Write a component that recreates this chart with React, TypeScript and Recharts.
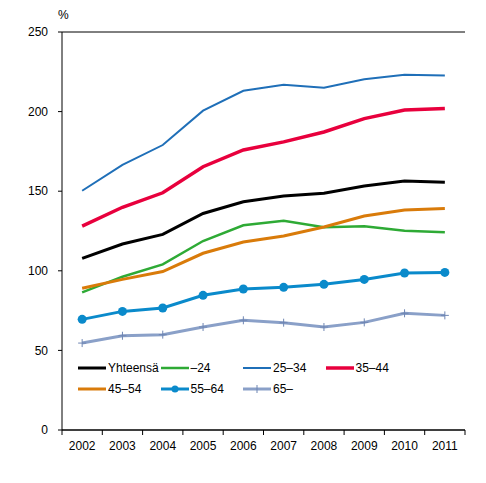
import React from "react";
import { LineChart, Line, XAxis, YAxis, CartesianGrid } from "recharts";

// Years on the x axis
const years = ["2002", "2003", "2004", "2005", "2006", "2007", "2008", "2009", "2010", "2011"];

// Values (%)
const total = [107.8, 116.8, 122.9, 136.0, 143.4, 147.0, 148.7, 153.3, 156.4, 155.6];
const under24 = [86.5, 96.3, 104.0, 118.7, 128.6, 131.5, 127.3, 128.0, 125.2, 124.2];
const age25to34 = [150.3, 166.5, 179.0, 200.6, 213.1, 216.9, 215.0, 220.3, 223.2, 222.6];
const age35to44 = [128.1, 139.9, 149.0, 165.4, 175.9, 181.0, 187.2, 195.6, 201.0, 202.0];
const age45to54 = [89.0, 94.6, 99.5, 111.0, 118.1, 121.9, 127.5, 134.4, 138.2, 139.2];
const age55to64 = [69.5, 74.5, 76.6, 84.6, 88.6, 89.6, 91.5, 94.6, 98.6, 99.0];
const age65plus = [54.6, 59.2, 59.9, 64.7, 68.9, 67.4, 64.7, 67.6, 73.3, 72.0];

const yTicks = [0, 50, 100, 150, 200, 250];

const data = years.map((year, i) => ({
  year,
  total: total[i],
  under24: under24[i],
  age25to34: age25to34[i],
  age35to44: age35to44[i],
  age45to54: age45to54[i],
  age55to64: age55to64[i],
  age65plus: age65plus[i]
}));

const FONT = "Arial, 'Liberation Sans', sans-serif";

type SeriesDef = { key: string; name: string; color: string; width: number; marker?: "dot" | "plus" };

const series: SeriesDef[] = [
  { key: "total", name: "Yhteensä", color: "#000000", width: 3 },
  { key: "under24", name: "–24", color: "#2EAA35", width: 2.5 },
  { key: "age25to34", name: "25–34", color: "#1F6FB8", width: 2 },
  { key: "age35to44", name: "35–44", color: "#E8003D", width: 3.5 },
  { key: "age45to54", name: "45–54", color: "#D97B0A", width: 3 },
  { key: "age55to64", name: "55–64", color: "#0A8ACB", width: 3, marker: "dot" },
  { key: "age65plus", name: "65–", color: "#8AA0C8", width: 3, marker: "plus" }
];

// "+" marker for the 65– line
const PlusDot = (props: any) => {
  const { cx, cy } = props;
  if (cx == null || cy == null) return null;
  return (
    <g>
      <line x1={cx} y1={cy - 4} x2={cx} y2={cy + 4} stroke="#6F86B3" strokeWidth={1} />
      <line x1={cx - 4} y1={cy} x2={cx + 4} y2={cy} stroke="#6F86B3" strokeWidth={1} />
    </g>
  );
};

// x ticks: label at the band centre, tick marks at the band edges (Excel style)
const XTick = (props: any) => {
  const { x, y, payload, index } = props;
  const half = 40.3 / 2;
  return (
    <g>
      <line x1={x - half} y1={y} x2={x - half} y2={y + 5} stroke="#000" />
      {index === years.length - 1 && (
        <line x1={x + half} y1={y} x2={x + half} y2={y + 5} stroke="#000" />
      )}
      <text x={x} y={y + 20} textAnchor="middle" fontSize={12} fontFamily={FONT} fill="#000">
        {payload.value}
      </text>
    </g>
  );
};

const LegendMark = ({ s }: { s: SeriesDef }) => (
  <svg width={28} height={10} style={{ display: "block" }}>
    <line x1={0} y1={5} x2={28} y2={5} stroke={s.color} strokeWidth={s.width} />
    {s.marker === "dot" && <circle cx={14} cy={5} r={3.5} fill={s.color} />}
    {s.marker === "plus" && <line x1={14} y1={1} x2={14} y2={9} stroke="#6F86B3" strokeWidth={1} />}
  </svg>
);

const ChartLegend = () => (
  <div
    style={{
      position: "absolute",
      left: 78,
      top: 361,
      width: 400,
      height: 44,
      fontFamily: FONT,
      fontSize: 12
    }}
  >
    {series.map((s, i) => {
      const col = i < 4 ? i : i - 4;
      const row = i < 4 ? 0 : 1;
      return (
        <div
          key={s.key}
          style={{
            position: "absolute",
            left: col * 82.5,
            top: row * 21,
            display: "flex",
            alignItems: "center",
            gap: 2,
            whiteSpace: "nowrap"
          }}
        >
          <LegendMark s={s} />
          <span>{s.name}</span>
        </div>
      );
    })}
  </div>
);

export default function App() {
  return (
    <div style={{ position: "absolute", left: 0, top: 0, width: 486, height: 483, background: "#fff" }}>
      <div style={{ position: "absolute", left: 58, top: 8, fontFamily: FONT, fontSize: 12 }}>%</div>
      <LineChart
        width={486}
        height={483}
        data={data}
        margin={{ top: 32, right: 21, left: 12, bottom: 23 }}
      >
        <CartesianGrid vertical={false} stroke="#000" strokeWidth={1} />
        <XAxis
          dataKey="year"
          scale="band"
          height={30}
          axisLine={{ stroke: "#000" }}
          tickLine={false}
          tickSize={0}
          tickMargin={0}
          tick={<XTick />}
          interval={0}
        />
        <YAxis
          yAxisId="l"
          width={50}
          domain={[0, 250]}
          ticks={yTicks}
          interval={0}
          axisLine={{ stroke: "#000" }}
          tickLine={{ stroke: "#000" }}
          tickSize={4}
          tickMargin={10}
          tick={{ fill: "#000", fontSize: 12, fontFamily: FONT }}
        />
        <YAxis
          yAxisId="r"
          orientation="right"
          width={0}
          domain={[0, 250]}
          ticks={yTicks}
          axisLine={{ stroke: "#000" }}
          tickLine={false}
          tick={false}
        />
        {series.map((s) => (
          <Line
            key={s.key}
            yAxisId="l"
            type="linear"
            dataKey={s.key}
            name={s.name}
            stroke={s.color}
            strokeWidth={s.width}
            dot={
              s.marker === "dot"
                ? { r: 4.5, fill: s.color, stroke: s.color, strokeWidth: 0 }
                : s.marker === "plus"
                ? <PlusDot />
                : false
            }
            activeDot={false}
            isAnimationActive={false}
          />
        ))}
      </LineChart>
      <ChartLegend />
    </div>
  );
}
